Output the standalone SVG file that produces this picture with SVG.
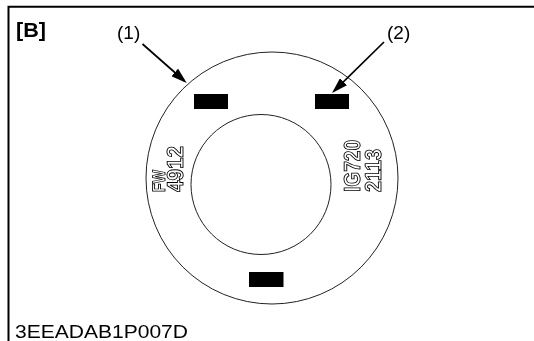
<svg xmlns="http://www.w3.org/2000/svg" width="534" height="341" viewBox="0 0 534 341">
<style>
.t{font-family:"Liberation Sans",Arial,sans-serif;fill:#000}
.c{fill:none;stroke:#222;stroke-width:1}
.l{fill:none;stroke:#000;stroke-width:1.7}
.b{fill:#000}
.o{font-size:23px;font-weight:bold;fill:#fff;stroke:#000;stroke-width:.9;text-rendering:geometricPrecision}
</style>
<defs><marker id="a" markerUnits="userSpaceOnUse" markerWidth="16" markerHeight="10" refX="13" refY="5" orient="auto"><path d="M0 0L16 5L0 10Z" fill="#000"/></marker>
<filter id="g" x="0" y="0" width="1" height="1" filterUnits="objectBoundingBox" color-interpolation-filters="sRGB"><feColorMatrix type="saturate" values="0"/></filter></defs>
<rect width="534" height="341" fill="#fff"/>
<path d="M8.500 341V6.700H534" fill="none" stroke="#000" stroke-width="2"/>
<g id="ring"><circle class="c" cx="272" cy="178" r="126"/><circle class="c" cx="261" cy="184.500" r="70"/></g>
<g id="marks"><rect class="b" x="194" y="94" width="34" height="15"/><rect class="b" x="315" y="94" width="34" height="15"/><rect class="b" x="249" y="272" width="34.500" height="15"/></g>
<g id="connectors"><path class="l" d="M142.500 44L184.500 81" marker-end="url(#a)"/><path class="l" d="M384 42L334.200 90.800" marker-end="url(#a)"/></g>
<g id="labels" filter="url(#g)">
<text class="t" x="16" y="37" font-size="21" font-weight="bold" textLength="30" lengthAdjust="spacingAndGlyphs">[B]</text>
<text class="t" x="117" y="39" font-size="19">(1)</text>
<text class="t" x="387" y="39" font-size="19">(2)</text>
<text class="t" x="15" y="337.500" font-size="18.500" textLength="173" lengthAdjust="spacingAndGlyphs">3EEADAB1P007D</text>
<text class="t o" transform="translate(165 192) rotate(-90)" textLength="22" lengthAdjust="spacingAndGlyphs" style="font-size:18px">FW</text>
<text class="t o" transform="translate(183 192) rotate(-90)" textLength="46" lengthAdjust="spacingAndGlyphs">4912</text>
<text class="t o" transform="translate(360 192) rotate(-90)" textLength="52" lengthAdjust="spacingAndGlyphs">IG720</text>
<text class="t o" transform="translate(381 192) rotate(-90)" textLength="43" lengthAdjust="spacingAndGlyphs">2113</text>
</g>
</svg>
